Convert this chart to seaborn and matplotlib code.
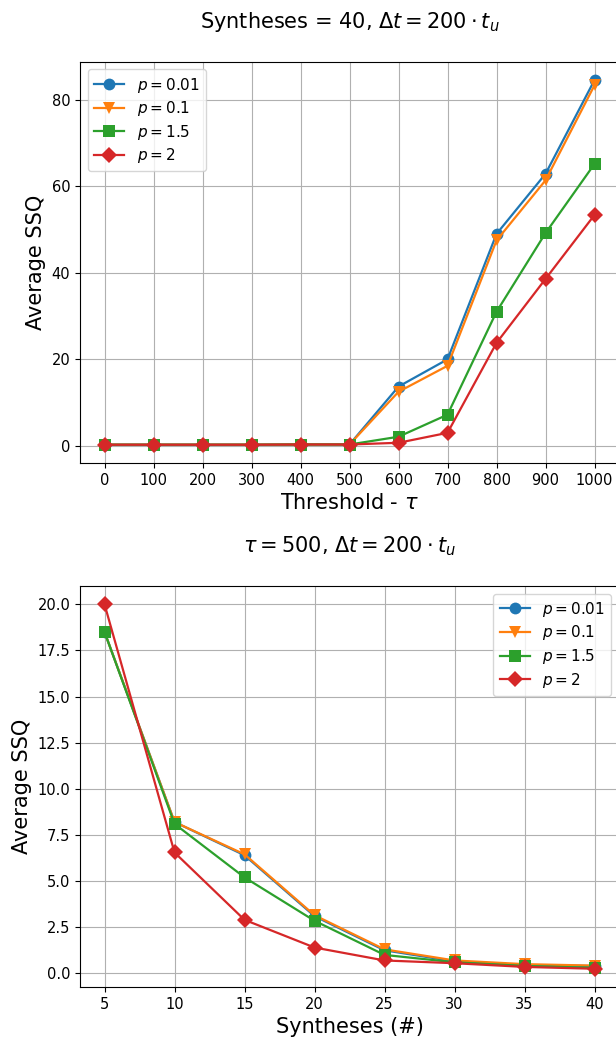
import numpy as np
import pandas as pd
import seaborn as sns
import matplotlib.pyplot as plt

# data
thresholds = [0, 100, 200, 300, 400, 500, 600, 700, 800, 900, 1000]
top_p001 = [0.25, 0.25, 0.25, 0.25, 0.3, 0.3, 13.7, 20.0, 49.0, 62.9, 84.6]
top_p01 = [0.25, 0.25, 0.25, 0.25, 0.3, 0.3, 12.5, 18.5, 47.5, 61.4, 83.4]
top_p15 = [0.25, 0.25, 0.25, 0.25, 0.3, 0.3, 2.1, 7.2, 31.0, 49.2, 65.2]
top_p2 = [0.25, 0.25, 0.25, 0.25, 0.3, 0.3, 0.7, 3.0, 23.8, 38.6, 53.4]

syntheses = [5, 10, 15, 20, 25, 30, 35, 40]
bot_p001 = [18.5, 8.2, 6.4, 3.1, 1.25, 0.65, 0.45, 0.4]
bot_p01 = [18.5, 8.2, 6.45, 3.15, 1.3, 0.7, 0.5, 0.42]
bot_p15 = [18.5, 8.1, 5.2, 2.85, 1.0, 0.6, 0.4, 0.3]
bot_p2 = [20.0, 6.55, 2.9, 1.4, 0.7, 0.55, 0.35, 0.25]

labels = [r'$p = 0.01$', r'$p = 0.1$', r'$p = 1.5$', r'$p = 2$']
markers = ['o', 'v', 's', 'D']
colors = ['#1f77b4', '#ff7f0e', '#2ca02c', '#d62728']

fig = plt.figure(figsize=(6.16, 10.42), dpi=100)
ax1 = fig.add_axes([0.1299, 0.5557, 0.875, 0.385])
ax2 = fig.add_axes([0.1299, 0.0528, 0.875, 0.3848])

# 上图
for ys, lab, m, c in zip([top_p001, top_p01, top_p15, top_p2], labels, markers, colors):
    sns.lineplot(x=thresholds, y=ys, ax=ax1, label=lab, marker=m, color=c,
                 markersize=8.5, markeredgewidth=0, linewidth=1.6)
ax1.set_xticks(thresholds)
ax1.grid(True, color='#b0b0b0', linewidth=0.8)
ax1.set_title(r'Syntheses = 40, $\Delta t = 200 \cdot t_u$', fontsize=15, pad=24)
ax1.set_xlabel(r'Threshold - $\tau$', fontsize=15)
ax1.set_ylabel('Average SSQ', fontsize=15)
ax1.legend(loc='upper left', fontsize=11, labelspacing=0.3)

# 下图
for ys, lab, m, c in zip([bot_p001, bot_p01, bot_p15, bot_p2], labels, markers, colors):
    sns.lineplot(x=syntheses, y=ys, ax=ax2, label=lab, marker=m, color=c,
                 markersize=8.5, markeredgewidth=0, linewidth=1.6)
ax2.set_xticks(syntheses)
ax2.grid(True, color='#b0b0b0', linewidth=0.8)
ax2.set_title(r'$\tau = 500$, $\Delta t = 200 \cdot t_u$', fontsize=15, pad=24)
ax2.set_xlabel('Syntheses (#)', fontsize=15)
ax2.set_ylabel('Average SSQ', fontsize=15)
ax2.legend(loc='upper right', fontsize=11, labelspacing=0.3)

for ax in (ax1, ax2):
    ax.tick_params(labelsize=10.5)

fig.savefig('out.png', dpi=100)
